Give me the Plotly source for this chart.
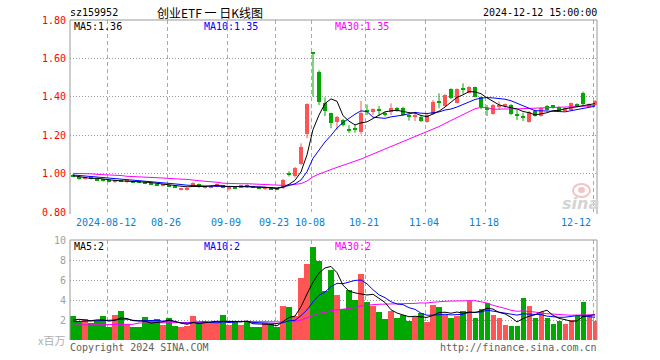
import plotly.graph_objects as go

# ---------------- data ----------------
title_code = "sz159952"
title_name = "创业ETF 一 日K线图"
stamp = "2024-12-12 15:00:00"

tick_index = [6, 16, 26, 34, 40, 49, 59, 69, 87]
tick_labels = ["2024-08-12", "08-26", "09-09", "09-23", "10-08", "10-21", "11-04", "11-18", "12-12"]

price_ticks = [0.80, 1.00, 1.20, 1.40, 1.60, 1.80]
price_tick_text = ["0.80", "1.00", "1.20", "1.40", "1.60", "1.80"]
vol_ticks = [2, 4, 6, 8, 10]
vol_tick_text = ["2", "4", "6", "8", "10"]

open_ = [0.995, 0.982, 0.972, 0.978, 0.975, 0.966, 0.963, 0.958, 0.963, 0.958,
         0.961, 0.958, 0.955, 0.947, 0.946, 0.936, 0.941, 0.934, 0.916, 0.918,
         0.932, 0.946, 0.925, 0.926, 0.932, 0.940, 0.920, 0.926, 0.929, 0.942,
         0.932, 0.925, 0.920, 0.928, 0.923, 0.925, 0.998, 0.985, 1.048, 1.206,
         1.632, 1.531, 1.366, 1.317, 1.270, 1.279, 1.229, 1.233, 1.218, 1.325,
         1.323, 1.330, 1.312, 1.323, 1.338, 1.340, 1.298, 1.298, 1.296, 1.270,
         1.310, 1.373, 1.352, 1.441, 1.370, 1.443, 1.421, 1.449, 1.397, 1.337,
         1.310, 1.349, 1.354, 1.357, 1.307, 1.295, 1.270, 1.327, 1.300, 1.352,
         1.350, 1.345, 1.328, 1.331, 1.359, 1.421, 1.352, 1.357]
high_ = [0.998, 0.985, 0.983, 0.981, 0.977, 0.970, 0.965, 0.968, 0.966, 0.965,
         0.963, 0.960, 0.957, 0.950, 0.948, 0.945, 0.943, 0.937, 0.926, 0.928,
         0.955, 0.948, 0.938, 0.940, 0.948, 0.942, 0.930, 0.929, 0.941, 0.944,
         0.935, 0.928, 0.930, 0.930, 0.925, 0.972, 1.012, 1.035, 1.158, 1.366,
         1.632, 1.538, 1.397, 1.317, 1.300, 1.285, 1.252, 1.255, 1.378, 1.360,
         1.340, 1.352, 1.322, 1.366, 1.347, 1.348, 1.310, 1.322, 1.303, 1.313,
         1.383, 1.418, 1.414, 1.444, 1.444, 1.470, 1.456, 1.453, 1.401, 1.357,
         1.362, 1.375, 1.365, 1.362, 1.331, 1.317, 1.327, 1.333, 1.345, 1.357,
         1.357, 1.350, 1.345, 1.370, 1.366, 1.427, 1.366, 1.383]
low_ = [0.982, 0.968, 0.968, 0.969, 0.962, 0.958, 0.955, 0.952, 0.957, 0.950,
        0.953, 0.951, 0.946, 0.942, 0.936, 0.933, 0.933, 0.925, 0.912, 0.912,
        0.930, 0.926, 0.922, 0.924, 0.930, 0.924, 0.911, 0.920, 0.927, 0.926,
        0.927, 0.919, 0.915, 0.915, 0.913, 0.920, 0.985, 0.980, 1.045, 1.184,
        1.401, 1.357, 1.300, 1.236, 1.228, 1.245, 1.212, 1.213, 1.204, 1.305,
        1.305, 1.300, 1.297, 1.305, 1.322, 1.300, 1.276, 1.274, 1.269, 1.265,
        1.305, 1.340, 1.349, 1.387, 1.366, 1.415, 1.418, 1.397, 1.335, 1.300,
        1.307, 1.331, 1.340, 1.305, 1.279, 1.274, 1.265, 1.297, 1.297, 1.328,
        1.338, 1.325, 1.325, 1.328, 1.345, 1.355, 1.345, 1.352]
close_ = [0.985, 0.975, 0.980, 0.972, 0.966, 0.962, 0.958, 0.965, 0.960, 0.962,
          0.955, 0.955, 0.948, 0.945, 0.938, 0.942, 0.935, 0.930, 0.923, 0.925,
          0.952, 0.929, 0.935, 0.937, 0.944, 0.926, 0.926, 0.924, 0.939, 0.928,
          0.930, 0.923, 0.925, 0.918, 0.916, 0.968, 0.993, 1.030, 1.138, 1.360,
          1.626, 1.371, 1.328, 1.262, 1.296, 1.253, 1.227, 1.231, 1.314, 1.322,
          1.334, 1.328, 1.310, 1.340, 1.336, 1.305, 1.296, 1.300, 1.276, 1.305,
          1.374, 1.370, 1.409, 1.392, 1.441, 1.440, 1.453, 1.401, 1.345, 1.334,
          1.357, 1.354, 1.358, 1.310, 1.304, 1.292, 1.322, 1.300, 1.340, 1.331,
          1.347, 1.328, 1.342, 1.366, 1.356, 1.362, 1.361, 1.378]

# volume, in millions (x百万)
volume = [2.4, 1.93, 2.07, 1.73, 1.93, 2.4, 1.33, 2.5, 2.9, 1.6,
          1.33, 1.33, 2.27, 1.93, 2.07, 1.5, 2.2, 1.4, 1.33, 1.4,
          2.4, 1.67, 1.93, 1.67, 1.67, 2.5, 1.5, 1.93, 1.5, 1.93,
          1.27, 1.33, 1.67, 1.57, 1.27, 3.4, 3.33, 2.4, 6.23, 7.63,
          9.33, 7.93, 4.9, 7.0, 4.5, 3.07, 5.0, 4.0, 6.6, 3.83,
          3.43, 2.83, 2.1, 2.9, 2.23, 2.47, 1.93, 2.33, 2.73, 1.83,
          3.5, 3.33, 2.5, 2.23, 2.43, 2.9, 3.9, 2.23, 3.1, 3.73,
          2.5, 2.23, 1.5, 1.4, 1.4, 4.17, 3.4, 2.23, 2.83, 2.23,
          1.6, 1.93, 1.6, 2.0, 2.4, 3.83, 2.4, 1.93]

# moving-average values before enough in-window history exists
ma5_head = [0.989, 0.984, 0.979, 0.975]
ma10_head = [0.993, 0.990, 0.988, 0.985, 0.982, 0.980, 0.977, 0.975, 0.972]
ma30_head = [1.001, 1.001, 1.000, 0.999, 0.996, 0.995, 0.994, 0.993, 0.990, 0.986,
             0.985, 0.984, 0.982, 0.979, 0.978, 0.977, 0.975, 0.972, 0.971, 0.970,
             0.968, 0.963, 0.960, 0.958, 0.955, 0.950, 0.948, 0.947, 0.947]
vma5_head = [2.0, 2.07, 2.0, 1.93]
vma10_head = [1.83, 1.85, 1.88, 1.9, 1.92, 1.93, 1.93, 2.0, 2.07]
vma30_head = [1.5, 1.5, 1.5, 1.5, 1.5, 1.5, 1.5, 1.57, 1.57, 1.57,
              1.57, 1.7, 1.7, 1.72, 1.75, 1.77, 1.77, 1.77, 1.77, 1.77,
              1.77, 1.77, 1.77, 1.78, 1.8, 1.83, 1.85, 1.86, 1.87]

ma_labels = ["MA5:1.36", "MA10:1.35", "MA30:1.35"]
vma_labels = ["MA5:2", "MA10:2", "MA30:2"]

# ---------------- styling ----------------
RED = "#ff5555"
GREEN = "#00a800"
MONO = "DejaVu Sans Mono"
CJK = "Noto Sans CJK SC"
W, H = 660, 360
L, R, T, B = 70, 597, 20, 340   # plot-area pixel box


def rolling(vals, w, head):
    out = list(head)
    for i in range(len(head), len(vals)):
        out.append(sum(vals[i - w + 1:i + 1]) / w)
    return out


n = len(close_)
xs = list(range(n))
up = [c >= o for o, c in zip(open_, close_)]

fig = go.Figure()

# candle bodies and wicks
for flag, col in ((True, RED), (False, GREEN)):
    bx = [i for i in xs if up[i] == flag]
    base = [min(open_[i], close_[i]) for i in bx]
    hgt = [max(abs(close_[i] - open_[i]), 0.0055) for i in bx]
    fig.add_trace(go.Bar(x=bx, y=hgt, base=base, width=0.8, marker=dict(color=col, line=dict(width=0)),
                         xaxis="x", yaxis="y", hoverinfo="skip", showlegend=False))
    wx, wy = [], []
    for i in bx:
        wx += [i, i, None]
        wy += [low_[i], high_[i], None]
    fig.add_trace(go.Scatter(x=wx, y=wy, mode="lines", line=dict(color=col, width=1),
                             xaxis="x", yaxis="y", hoverinfo="skip", showlegend=False))

# price moving averages
for vals, col in ((rolling(close_, 30, ma30_head), "#ff00ff"),
                  (rolling(close_, 10, ma10_head), "#0000ff"),
                  (rolling(close_, 5, ma5_head), "#000000")):
    fig.add_trace(go.Scatter(x=xs, y=vals, mode="lines", line=dict(color=col, width=1),
                             xaxis="x", yaxis="y", hoverinfo="skip", showlegend=False))

# volume bars
fig.add_trace(go.Bar(x=xs, y=volume, width=0.84,
                     marker=dict(color=[RED if u else GREEN for u in up], line=dict(width=0)),
                     xaxis="x2", yaxis="y2", hoverinfo="skip", showlegend=False))
for vals, col in ((rolling(volume, 30, vma30_head), "#ff00ff"),
                  (rolling(volume, 10, vma10_head), "#0000ff"),
                  (rolling(volume, 5, vma5_head), "#000000")):
    fig.add_trace(go.Scatter(x=xs, y=vals, mode="lines", line=dict(color=col, width=1),
                             xaxis="x2", yaxis="y2", hoverinfo="skip", showlegend=False))

grid_x = [t - 0.33 for t in tick_index]
xcommon = dict(range=[-0.5, 87.33], tickvals=grid_x, showticklabels=False, ticks="",
               showgrid=True, gridcolor="#aaaaaa", gridwidth=1, griddash="4px,3px",
               zeroline=False, showline=False, fixedrange=True)

main_top = 1.0
main_bot = (B - 212) / (B - T)
vol_top = (B - 240) / (B - T)

fig.update_layout(
    width=W, height=H, margin=dict(l=L, r=W - R, t=T, b=H - B),
    paper_bgcolor="white", plot_bgcolor="white", barmode="overlay", bargap=0,
    showlegend=False,
    xaxis=dict(domain=[0, 1], anchor="y", **xcommon),
    xaxis2=dict(domain=[0, 1], anchor="y2", matches="x", **xcommon),
    yaxis=dict(domain=[main_bot, main_top], range=[0.8, 1.8], tickvals=price_ticks, ticktext=price_tick_text,
               tickfont=dict(family=MONO, size=10, color="#ff0000"), ticks="", showgrid=False,
               zeroline=False, showline=False, fixedrange=True, ticklabelstandoff=3,
               minor=dict(tickvals=[1.0, 1.2, 1.4, 1.6], showgrid=True, gridcolor="#999999",
                          griddash="1px,2px", gridwidth=1, ticks="")),
    yaxis2=dict(domain=[0, vol_top], range=[0, 10], tickvals=vol_ticks, ticktext=vol_tick_text,
                tickfont=dict(family=MONO, size=10, color="#a0a0a0"), ticks="", showgrid=False,
                zeroline=False, showline=False, fixedrange=True, ticklabelstandoff=3,
                minor=dict(tickvals=[2, 4, 6, 8], showgrid=True, gridcolor="#999999",
                           griddash="1px,2px", gridwidth=1, ticks="")),
)


def px(xp):
    return (xp - L) / (R - L)


def py(yp):
    return (B - yp) / (B - T)


shapes = []
for (x0, y0, x1, y1) in [(L, T, R, T), (L, T, L, 214), (R, T, R, 214),
                         (L, 240, R, 240), (L, 240, L, B), (R, 240, R, B)]:
    shapes.append(dict(type="line", xref="paper", yref="paper", x0=px(x0), y0=py(y0), x1=px(x1), y1=py(y1),
                       line=dict(color="#999999", width=1)))
# faint sina eye logo (watermark)
shapes.append(dict(type="circle", xref="paper", yref="paper", x0=px(573), x1=px(590), y0=py(197), y1=py(184),
                   line=dict(color="#f2c4c4", width=2), fillcolor="rgba(0,0,0,0)", layer="below"))
shapes.append(dict(type="circle", xref="paper", yref="paper", x0=px(578), x1=px(585), y0=py(193), y1=py(187),
                   line=dict(width=0), fillcolor="#f2c4c4", layer="below"))
fig.update_layout(shapes=shapes)

anns = []


def ann(text, xp, yp, anchor="left", color="#000", size=10, family=MONO, **kw):
    anns.append(dict(text=text, x=px(xp), y=py(yp), xref="paper", yref="paper", xanchor=anchor,
                     yanchor="middle", showarrow=False, borderpad=0,
                     font=dict(family=family, size=size, color=color), **kw))


ann(title_code, 69, 13)
ann(title_name, 210, 13, anchor="center", size=12, family=CJK)
ann(stamp, 598, 13, anchor="right")
for txt, xp, col in zip(ma_labels, (73, 203, 334), ("#000000", "#0000ff", "#ff00ff")):
    ann(txt, xp, 26, color=col)
for txt, xp, col in zip(vma_labels, (73, 203, 334), ("#000000", "#0000ff", "#ff00ff")):
    ann(txt, xp, 246, color=col)
for k, (ti, tl) in enumerate(zip(tick_index, tick_labels)):
    gx = 73 + 6 * ti - 2
    if k == len(tick_index) - 1:
        ann(tl, gx - 1, 222, anchor="right", color="#0a80d0")
    else:
        ann(tl, gx - 1.5, 222, anchor="center", color="#0a80d0")
ann("x百万", 66, 340, anchor="right", color="#b0b0b0", size=11, family=CJK)
ann("Copyright 2024 SINA.COM", 69, 347, color="#606060")
ann("http://finance.sina.com.cn", 598, 347, anchor="right", color="#606060")
ann("<b><i>sina</i></b>", 580, 203, anchor="center", color="#d4d4d4", size=16, family="DejaVu Sans")
fig.update_layout(annotations=anns)

fig.write_html("out.html")
